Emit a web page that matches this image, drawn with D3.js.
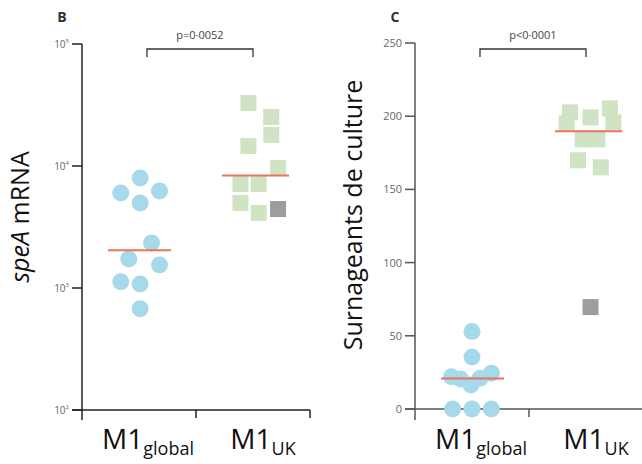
<!DOCTYPE html>
<html>
<head>
<meta charset="utf-8">
<script src="https://cdn.jsdelivr.net/npm/d3@7"></script>
<style>
  body { margin: 0; background: #fff; }
  svg { display: block; font-family: "Open Sans", sans-serif; }
</style>
</head>
<body>
<svg id="chart" width="642" height="464"></svg>
<script>
// groups on the x axis
const groups = ["global", "UK"];

// panel B: speA mRNA (log scale)
const speaGlobal = [7980, 6010, 6240, 4980, 2340, 1730, 1545, 1125, 1080, 675];
const speaGlobalJitter = [0.01, -0.16, 0.18, 0.01, 0.11, -0.09, 0.18, -0.16, 0.01, 0.01];
const speaUK = [32800, 25200, 18000, 14600, 9630, 7120, 7120, 4980, 4120, 4440];
const speaUKJitter = [-0.04, 0.16, 0.16, -0.04, 0.22, -0.11, 0.05, -0.11, 0.05, 0.22];
const speaUKOutlier = [false, false, false, false, false, false, false, false, false, true];

// panel C: culture supernatants (linear)
const supGlobal = [53, 35.5, 22, 20.5, 16.4, 21, 24.5, 0, 0, 0];
const supGlobalJitter = [0, 0, -0.18, -0.1, -0.01, 0.07, 0.17, -0.17, 0, 0.17];
const supUK = [202.6, 195.1, 199.2, 205.3, 195.8, 184.2, 184.2, 169.9, 165.1, 69.6];
const supUKJitter = [-0.14, -0.17, 0.04, 0.21, 0.24, -0.03, 0.1, -0.07, 0.13, 0.04];
const supUKOutlier = [false, false, false, false, false, false, false, false, false, true];

const logTicks = [2, 3, 4, 5];
const linTicks = [0, 50, 100, 150, 200, 250];
const pValues = ["p=0·0052", "p<0·0001"];

const blue = "#a6d9ea", green = "#d0e3c2", grey = "#9b9ea1", red = "#e8745c";

const svg = d3.select("#chart");

function panel(cfg) {
  const g = svg.append("g");
  const x = d3.scaleLinear().domain([0, 2]).range([cfg.left, cfg.left + 228]);
  const y = cfg.y;

  // panel letter
  g.append("text").attr("x", cfg.left - 20).attr("y", 22)
    .attr("font-size", 14).attr("font-weight", "bold").attr("fill", "#333")
    .attr("text-anchor", "middle").text(cfg.letter);

  // y axis line + ticks
  g.append("line").attr("x1", cfg.left).attr("x2", cfg.left)
    .attr("y1", y.range()[1]).attr("y2", 420)
    .attr("stroke", cfg.axisColor).attr("stroke-width", 1.5);
  cfg.ticks.forEach(t => {
    const v = cfg.log ? Math.pow(10, t) : t;
    g.append("line").attr("x1", cfg.left - 10).attr("x2", cfg.left)
      .attr("y1", y(v)).attr("y2", y(v))
      .attr("stroke", cfg.axisColor).attr("stroke-width", 1.5);
    const lab = g.append("text").attr("x", cfg.left - 13).attr("y", y(v) + 4)
      .attr("text-anchor", "end").attr("fill", "#666").attr("font-size", cfg.log ? 10 : 11);
    if (cfg.log) {
      lab.append("tspan").text("10");
      lab.append("tspan").attr("dy", -5).attr("font-size", 6).text(t);
    } else {
      lab.text(t);
    }
  });

  // x axis
  const y0 = y.range()[0];
  g.append("line").attr("x1", cfg.left - 10).attr("x2", x(2))
    .attr("y1", y0).attr("y2", y0)
    .attr("stroke", cfg.axisColor).attr("stroke-width", 1.5);
  [1, 2].forEach(t => {
    g.append("line").attr("x1", x(t)).attr("x2", x(t))
      .attr("y1", y0).attr("y2", y0 + 8)
      .attr("stroke", cfg.axisColor).attr("stroke-width", 1.5);
  });

  // x labels
  groups.forEach((name, i) => {
    const t = g.append("text").attr("x", x(i + 0.5) + (i === 0 ? 9 : 10)).attr("y", 449)
      .attr("text-anchor", "middle").attr("fill", "#111").attr("font-size", 28);
    t.append("tspan").text("M1");
    t.append("tspan").attr("dy", 6).attr("font-size", 18).text(name);
  });

  // y title
  const title = g.append("text")
    .attr("transform", `translate(${cfg.left - 53},${cfg.titleY}) rotate(-90)`)
    .attr("text-anchor", "middle").attr("font-size", 25).attr("fill", "#111");
  cfg.title(title);

  // significance bracket
  const by = 49;
  g.append("path")
    .attr("d", `M${x(0.57)},${by + 8}V${by}H${x(1.5)}V${by + 8}`)
    .attr("fill", "none").attr("stroke", "#333").attr("stroke-width", 1.3);
  g.append("text").attr("x", (x(0.57) + x(1.5)) / 2).attr("y", 39)
    .attr("text-anchor", "middle").attr("font-size", 11).attr("fill", "#444")
    .text(cfg.p);

  // UK squares
  const s = 16;
  g.selectAll("rect.pt").data(cfg.uk).join("rect").attr("class", "pt")
    .attr("x", (d, i) => x(1.5 + cfg.ukJitter[i]) - s / 2)
    .attr("y", d => y(d) - s / 2)
    .attr("width", s).attr("height", s)
    .attr("fill", (d, i) => cfg.ukOutlier[i] ? grey : green);

  // global circles
  g.selectAll("circle.pt").data(cfg.global).join("circle").attr("class", "pt")
    .attr("cx", (d, i) => x(0.5 + cfg.globalJitter[i]))
    .attr("cy", d => y(d))
    .attr("r", 8.5)
    .attr("fill", blue);

  // medians
  [cfg.global, cfg.uk].forEach((vals, i) => {
    const m = d3.median(vals);
    g.append("line").attr("x1", x(i + 0.5) - 31).attr("x2", x(i + 0.5) + 32 + i * 4)
      .attr("y1", y(m)).attr("y2", y(m))
      .attr("stroke", red).attr("stroke-width", 2);
  });
}

panel({
  letter: "B", left: 82, log: true, ticks: logTicks, axisColor: "#222",
  y: d3.scaleLog().domain([100, 100000]).range([410, 44]),
  global: speaGlobal, globalJitter: speaGlobalJitter,
  uk: speaUK, ukJitter: speaUKJitter, ukOutlier: speaUKOutlier,
  p: pValues[0], titleY: 217,
  title: t => {
    t.append("tspan").attr("font-style", "italic").text("speA");
    t.append("tspan").text(" mRNA");
  }
});

panel({
  letter: "C", left: 415, log: false, ticks: linTicks, axisColor: "#555",
  y: d3.scaleLinear().domain([0, 250]).range([409, 43]),
  global: supGlobal, globalJitter: supGlobalJitter,
  uk: supUK, ukJitter: supUKJitter, ukOutlier: supUKOutlier,
  p: pValues[1], titleY: 215,
  title: t => t.text("Surnageants de culture")
});
</script>
</body>
</html>
